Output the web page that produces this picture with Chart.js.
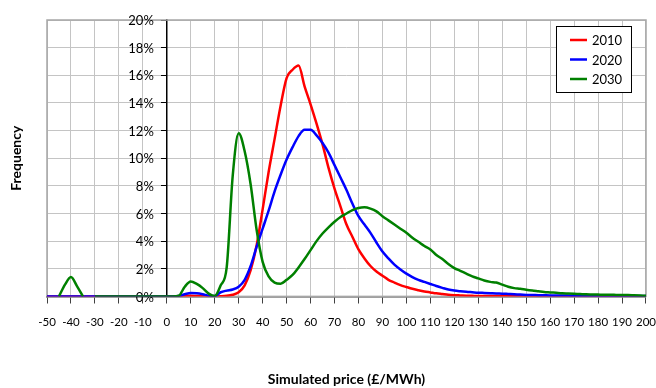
<!DOCTYPE html>
<html>
<head>
<meta charset="utf-8">
<script src="https://cdn.jsdelivr.net/npm/chart.js@4"></script>
<style>
    html, body { margin: 0; padding: 0; background: #fff; }
</style>
</head>
<body>
<canvas id="chart" width="656" height="388"></canvas>
<script>
// price bins (£/MWh)
var prices = [
    -50, -47.5, -45, -42.5, -40, -37.5, -35, -32.5, -30, -27.5,
    -25, -22.5, -20, -17.5, -15, -12.5, -10, -7.5, -5, -2.5,
    0, 2.5, 5, 7.5, 10, 12.5, 15, 17.5, 20, 22.5,
    25, 27.5, 30, 32.5, 35, 37.5, 40, 42.5, 45, 47.5,
    50, 52.5, 55, 57.5, 60, 62.5, 65, 67.5, 70, 72.5,
    75, 77.5, 80, 82.5, 85, 87.5, 90, 92.5, 95, 97.5,
    100, 102.5, 105, 107.5, 110, 112.5, 115, 117.5, 120, 122.5,
    125, 127.5, 130, 132.5, 135, 137.5, 140, 142.5, 145, 147.5,
    150, 152.5, 155, 157.5, 160, 162.5, 165, 167.5, 170, 172.5,
    175, 177.5, 180, 182.5, 185, 187.5, 190, 192.5, 195, 197.5,
    200
];

// frequency in %
var freq2010 = [
    0, 0, 0, 0, 0, 0, 0, 0, 0, 0,
    0, 0, 0, 0, 0, 0, 0, 0, 0, 0,
    0, 0, 0, 0.02, 0.05, 0.03, 0.01, 0, 0, 0.01,
    0.04, 0.12, 0.3, 0.8, 1.9, 3.7, 6.3, 9.0, 11.4, 13.8,
    15.8, 16.4, 16.7, 15.2, 13.9, 12.5, 11.0, 9.3, 7.8, 6.5,
    5.2, 4.3, 3.4, 2.75, 2.2, 1.8, 1.5, 1.2, 1.0, 0.82,
    0.68, 0.55, 0.45, 0.36, 0.29, 0.22, 0.17, 0.12, 0.09, 0.07,
    0.05, 0.04, 0.03, 0.03, 0.02, 0.02, 0.02, 0.01, 0.01, 0.01,
    0.01, 0.01, 0.01, 0, 0, 0, 0, 0, 0, 0,
    0, 0, 0, 0, 0, 0, 0, 0, 0, 0,
    0
];

var freq2020 = [
    0, 0, 0, 0, 0, 0, 0, 0, 0, 0,
    0, 0, 0, 0, 0, 0, 0, 0, 0, 0,
    0, 0, 0.03, 0.15, 0.25, 0.22, 0.15, 0.06, 0.02, 0.3,
    0.42, 0.5, 0.7, 1.2, 2.2, 3.6, 4.9, 6.2, 7.6, 8.8,
    9.9, 10.8, 11.6, 12.05, 12.05, 11.65, 11.1, 10.4, 9.5, 8.6,
    7.7, 6.7, 5.8, 5.2, 4.6, 3.9, 3.25, 2.75, 2.3, 1.95,
    1.65, 1.4, 1.2, 1.05, 0.9, 0.75, 0.62, 0.5, 0.42, 0.37,
    0.33, 0.3, 0.27, 0.25, 0.23, 0.21, 0.2, 0.18, 0.16, 0.13,
    0.11, 0.1, 0.09, 0.08, 0.07, 0.07, 0.06, 0.06, 0.05, 0.05,
    0.05, 0.04, 0.04, 0.04, 0.03, 0.03, 0.03, 0.03, 0.02, 0.02,
    0.02
];

var freq2030 = [
    null, null, 0, 0.85, 1.4, 0.75, 0, null, 0, 0,
    0, 0, 0, 0, 0, 0, 0, 0, 0, 0,
    0, 0, 0.05, 0.7, 1.08, 0.9, 0.6, 0.2, 0.02, 0.8,
    2.1, 8.7, 11.8, 10.5, 8.1, 4.8, 2.5, 1.45, 1.0, 0.92,
    1.2, 1.55, 2.1, 2.7, 3.35, 4.0, 4.55, 5.0, 5.4, 5.75,
    6.0, 6.25, 6.4, 6.45, 6.35, 6.15, 5.8, 5.5, 5.2, 4.9,
    4.6, 4.25, 3.95, 3.65, 3.4, 3.0, 2.7, 2.35, 2.05, 1.85,
    1.65, 1.45, 1.3, 1.15, 1.05, 1.0, 0.85, 0.7, 0.6, 0.55,
    0.48, 0.42, 0.37, 0.32, 0.29, 0.26, 0.23, 0.21, 0.19, 0.17,
    0.15, 0.14, 0.13, 0.12, 0.12, 0.11, 0.1, 0.1, 0.08, 0.06,
    0.04
];

var seriesNames = ["2010", "2020", "2030"];
var seriesColors = ["#ff0000", "#0000ff", "#008000"];

var FONT = "Lato, 'DejaVu Sans', sans-serif";

function points(values) {
    return prices.map(function (p, i) {
        return { x: p, y: values[i] };
    });
}

// grey frame round the plot area
var plotFrame = {
    id: "plotFrame",
    beforeDatasetsDraw: function (chart) {
        var a = chart.chartArea;
        var ctx = chart.ctx;
        ctx.save();
        ctx.strokeStyle = "#a6a6a6";
        ctx.lineWidth = 1.5;
        ctx.strokeRect(a.left, a.top, a.right - a.left, a.bottom - a.top);
        ctx.restore();
    },
};

// y tick labels, placed left of the axis that crosses at x = 0
var yLabels = {
    id: "yLabels",
    beforeDatasetsDraw: function (chart) {
        var ctx = chart.ctx;
        var yScale = chart.scales.y;
        var axisX = chart.scales.x.getPixelForValue(0);
        ctx.save();
        ctx.font = "13px " + FONT;
        ctx.fillStyle = "#000";
        ctx.textAlign = "right";
        ctx.textBaseline = "middle";
        yScale.ticks.forEach(function (t) {
            ctx.fillText(t.value + "%", axisX - 13, yScale.getPixelForValue(t.value) + 1);
        });
        ctx.restore();
    },
};

// rotated y title
var yTitle = {
    id: "yTitle",
    afterDraw: function (chart) {
        var a = chart.chartArea;
        var ctx = chart.ctx;
        ctx.save();
        ctx.translate(16, (a.top + a.bottom) / 2);
        ctx.rotate(-Math.PI / 2);
        ctx.font = "bold 14px " + FONT;
        ctx.fillStyle = "#000";
        ctx.textAlign = "center";
        ctx.textBaseline = "middle";
        ctx.fillText("Frequency", 0, 0);
        ctx.restore();
    },
};

// boxed legend in the top right corner of the plot
var legendBox = {
    id: "legendBox",
    afterDraw: function (chart) {
        var a = chart.chartArea;
        var ctx = chart.ctx;
        var w = 75, h = 66;
        var x = a.right - 15 - w, y = a.top + 6;
        ctx.save();
        ctx.fillStyle = "#fff";
        ctx.fillRect(x, y, w, h);
        ctx.strokeStyle = "#000";
        ctx.lineWidth = 1;
        ctx.strokeRect(x + 0.5, y + 0.5, w, h);
        ctx.font = "13px " + FONT;
        ctx.textBaseline = "middle";
        chart.data.datasets.forEach(function (ds, i) {
            var ly = y + 14 + i * 19.5;
            ctx.strokeStyle = ds.borderColor;
            ctx.lineWidth = 2.5;
            ctx.beginPath();
            ctx.moveTo(x + 14, ly);
            ctx.lineTo(x + 31, ly);
            ctx.stroke();
            ctx.fillStyle = "#000";
            ctx.fillText(ds.label, x + 36, ly + 1);
        });
        ctx.restore();
    },
};

function drawChart() {
    var ctx = document.getElementById("chart").getContext("2d");
    var allSeries = [freq2010, freq2020, freq2030];

    var datasets = allSeries.map(function (values, i) {
        return {
            label: seriesNames[i],
            data: points(values),
            borderColor: seriesColors[i],
            backgroundColor: seriesColors[i],
            borderWidth: 2.5,
            pointRadius: 0,
            cubicInterpolationMode: "monotone",
            spanGaps: false,
            order: allSeries.length - i,
        };
    });

    new Chart(ctx, {
        type: "line",
        data: { datasets: datasets },
        options: {
            responsive: false,
            animation: false,
            devicePixelRatio: 1,
            layout: {
                padding: { left: 47, right: 0, top: 20, bottom: 0 },
            },
            plugins: {
                legend: { display: false },
                tooltip: { enabled: false },
            },
            scales: {
                x: {
                    type: "linear",
                    min: -50,
                    max: 200,
                    ticks: {
                        stepSize: 10,
                        autoSkip: false,
                        maxRotation: 0,
                        padding: 0,
                        color: "#000",
                        font: { family: FONT, size: 11.5 },
                    },
                    grid: {
                        color: "#c4c4c4",
                        tickColor: "#404040",
                        // long tick slot for label spacing, only 6px drawn
                        tickLength: 19,
                        tickBorderDash: [6, 40],
                    },
                    border: { color: "#404040", width: 1.5 },
                    title: {
                        display: true,
                        text: "Simulated price (£/MWh)",
                        color: "#000",
                        font: { family: FONT, size: 14, weight: "bold" },
                        padding: { top: 42, bottom: 0 },
                    },
                },
                y: {
                    type: "linear",
                    position: { x: 0 },
                    min: 0,
                    max: 20,
                    ticks: {
                        stepSize: 2,
                        display: false,
                    },
                    grid: {
                        color: "#c4c4c4",
                        tickColor: "#000",
                        tickLength: 5,
                    },
                    border: { color: "#000", width: 1.5 },
                },
            },
        },
        plugins: [plotFrame, yLabels, yTitle, legendBox],
    });
}

drawChart();
</script>
</body>
</html>
